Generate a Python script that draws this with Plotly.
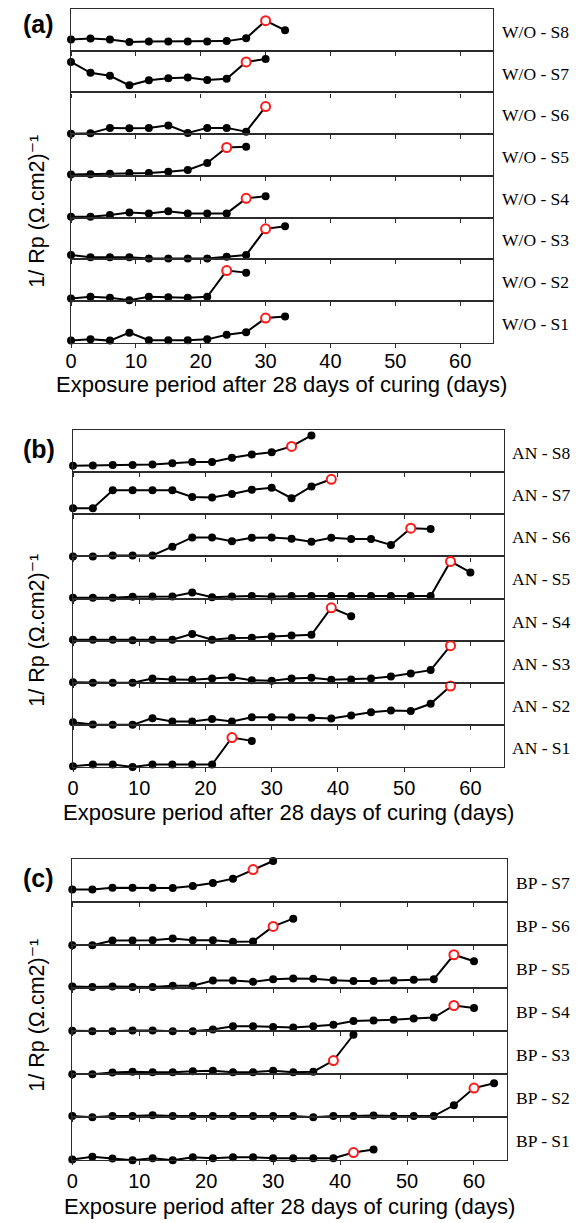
import plotly.graph_objects as go

W, H = 581, 1223

# measurement days (every 3 days of exposure)
DAYS = [0, 3, 6, 9, 12, 15, 18, 21, 24, 27, 30, 33, 36, 39, 42, 45, 48, 51, 54, 57, 60, 63]
TICKS = [0, 10, 20, 30, 40, 50, 60]

# ---- (a) without inhibitor, top row first ----
wo_labels = ["W/O - S8", "W/O - S7", "W/O - S6", "W/O - S5",
             "W/O - S4", "W/O - S3", "W/O - S2", "W/O - S1"]
wo_s8 = [0.27, 0.29, 0.27, 0.21, 0.22, 0.22, 0.22, 0.22, 0.23, 0.30, 0.72, 0.49]
wo_s7 = [0.73, 0.47, 0.40, 0.17, 0.29, 0.34, 0.36, 0.30, 0.33, 0.73, 0.80]
wo_s6 = [0.01, 0.02, 0.15, 0.14, 0.15, 0.21, 0.03, 0.15, 0.15, 0.06, 0.66]
wo_s5 = [0.03, 0.04, 0.05, 0.07, 0.07, 0.10, 0.14, 0.31, 0.68, 0.70]
wo_s4 = [0.02, 0.02, 0.06, 0.12, 0.10, 0.15, 0.10, 0.10, 0.10, 0.46, 0.51]
wo_s3 = [0.10, 0.05, 0.05, 0.05, 0.02, 0.02, 0.02, 0.02, 0.06, 0.10, 0.73, 0.79]
wo_s2 = [0.06, 0.10, 0.08, 0.02, 0.10, 0.09, 0.08, 0.10, 0.73, 0.68]
wo_s1 = [0.05, 0.08, 0.05, 0.24, 0.06, 0.06, 0.06, 0.08, 0.19, 0.25, 0.59, 0.63]
wo_onset = [30, 27, 30, 24, 27, 30, 24, 30]

# ---- (b) AN ----
an_labels = ["AN - S8", "AN - S7", "AN - S6", "AN - S5",
             "AN - S4", "AN - S3", "AN - S2", "AN - S1"]
an_s8 = [0.15, 0.16, 0.17, 0.17, 0.18, 0.21, 0.24, 0.24, 0.34, 0.42, 0.47, 0.61, 0.87]
an_s7 = [0.14, 0.14, 0.57, 0.57, 0.57, 0.57, 0.41, 0.40, 0.48, 0.58, 0.63, 0.38, 0.66, 0.83]
an_s6 = [0.00, 0.00, 0.02, 0.02, 0.02, 0.23, 0.45, 0.45, 0.36, 0.44, 0.45, 0.42, 0.35,
         0.44, 0.41, 0.41, 0.27, 0.67, 0.65]
an_s5 = [0.02, 0.02, 0.02, 0.04, 0.05, 0.05, 0.14, 0.03, 0.05, 0.06, 0.05, 0.06, 0.06,
         0.06, 0.06, 0.06, 0.06, 0.06, 0.06, 0.88, 0.62]
an_s4 = [0.02, 0.02, 0.02, 0.01, 0.02, 0.02, 0.16, 0.02, 0.06, 0.07, 0.10, 0.12, 0.14, 0.78, 0.58]
an_s3 = [0.01, 0.00, 0.00, 0.00, 0.10, 0.08, 0.07, 0.10, 0.13, 0.06, 0.05, 0.10, 0.12,
         0.07, 0.08, 0.10, 0.15, 0.22, 0.30, 0.88]
an_s2 = [0.06, 0.01, 0.00, 0.00, 0.16, 0.08, 0.08, 0.14, 0.08, 0.18, 0.18, 0.18, 0.17,
         0.15, 0.22, 0.30, 0.34, 0.33, 0.50, 0.92]
an_s1 = [0.02, 0.06, 0.06, 0.00, 0.06, 0.06, 0.06, 0.06, 0.70, 0.62]
an_onset = [33, 39, 51, 57, 39, 57, 57, 24]

# ---- (c) BP ----
bp_labels = ["BP - S7", "BP - S6", "BP - S5", "BP - S4", "BP - S3", "BP - S2", "BP - S1"]
bp_s7 = [0.30, 0.30, 0.34, 0.34, 0.34, 0.33, 0.38, 0.45, 0.55, 0.76, 0.96]
bp_s6 = [0.00, 0.00, 0.11, 0.11, 0.12, 0.16, 0.12, 0.12, 0.08, 0.09, 0.44, 0.62]
bp_s5 = [0.04, 0.03, 0.04, 0.03, 0.03, 0.06, 0.06, 0.18, 0.18, 0.15, 0.21, 0.23, 0.22,
         0.19, 0.17, 0.17, 0.18, 0.20, 0.21, 0.78, 0.63]
bp_s4 = [0.01, 0.00, 0.00, 0.02, 0.02, 0.00, 0.00, 0.04, 0.12, 0.12, 0.10, 0.09, 0.12,
         0.15, 0.24, 0.25, 0.27, 0.30, 0.32, 0.60, 0.54]
bp_s3 = [0.00, 0.00, 0.04, 0.06, 0.05, 0.05, 0.07, 0.08, 0.05, 0.05, 0.08, 0.05, 0.06, 0.32, 0.92]
bp_s2 = [0.03, 0.00, 0.03, 0.03, 0.05, 0.03, 0.03, 0.03, 0.03, 0.03, 0.03, 0.03, 0.00,
         0.03, 0.03, 0.04, 0.03, 0.03, 0.03, 0.28, 0.68, 0.79]
bp_s1 = [0.02, 0.08, 0.04, 0.00, 0.05, 0.00, 0.07, 0.05, 0.07, 0.07, 0.05, 0.05, 0.05,
         0.05, 0.18, 0.25]
bp_onset = [27, 30, 57, 57, 39, 60, 42]

# panel boxes in pixels: left, right, top, bottom
panels = [
    dict(tag="(a)", labels=wo_labels, onset=wo_onset,
         series=[wo_s8, wo_s7, wo_s6, wo_s5, wo_s4, wo_s3, wo_s2, wo_s1],
         box=(65.7, 491.7, 9.0, 342.7), ytitle=211, tagy=24, xtitle=384, standoff=-4),
    dict(tag="(b)", labels=an_labels, onset=an_onset,
         series=[an_s8, an_s7, an_s6, an_s5, an_s4, an_s3, an_s2, an_s1],
         box=(67.7, 502.7, 430.0, 767.0), ytitle=630, tagy=449, xtitle=812, standoff=-1),
    dict(tag="(c)", labels=bp_labels, onset=bp_onset,
         series=[bp_s7, bp_s6, bp_s5, bp_s4, bp_s3, bp_s2, bp_s1],
         box=(67.0, 506.7, 859.3, 1160.3), ytitle=1015, tagy=878, xtitle=1206, standoff=-1),
]

FRAME = "#2b2b2b"
SANS = "Liberation Sans, Arial, DejaVu Sans, sans-serif"
SERIF = "Liberation Serif, Times New Roman, serif"
YTITLE = "1/ Rp (\u03a9.cm2)\u207b\u00b9"

fig = go.Figure()
layout = {}
annotations = []
k = 0
for p in panels:
    left, right, top, bottom = p["box"]
    n = len(p["series"])
    h = (bottom - top) / n
    for i, (vals, lab, od) in enumerate(zip(p["series"], p["labels"], p["onset"])):
        k += 1
        sfx = "" if k == 1 else str(k)
        xs = DAYS[:len(vals)]
        y0 = top + i * h
        y1 = y0 + h
        last = i == n - 1
        layout["xaxis" + sfx] = dict(
            domain=[left / W, right / W], anchor="y" + sfx, range=[0, 65],
            showline=True, mirror=True, linecolor=FRAME, linewidth=1.3,
            ticks="outside", ticklen=4, tickwidth=1, tickcolor=FRAME,
            tickvals=TICKS, showticklabels=last, showgrid=False, zeroline=False,
            tickfont=dict(family=SANS, size=20, color="black"),
            ticklabelstandoff=p["standoff"],
        )
        layout["yaxis" + sfx] = dict(
            domain=[1 - y1 / H, 1 - y0 / H], anchor="x" + sfx, range=[0, 1],
            showline=True, mirror=True, linecolor=FRAME, linewidth=1.3,
            ticks="", showticklabels=False, showgrid=False, zeroline=False,
        )
        fig.add_trace(go.Scatter(
            x=xs, y=vals, xaxis="x" + sfx, yaxis="y" + sfx, mode="lines+markers",
            line=dict(color="black", width=2),
            marker=dict(color="black", size=8), cliponaxis=False, showlegend=False,
        ))
        j = xs.index(od)
        fig.add_trace(go.Scatter(
            x=[xs[j]], y=[vals[j]], xaxis="x" + sfx, yaxis="y" + sfx, mode="markers",
            marker=dict(color="white", size=9, line=dict(color="#ff1a1a", width=2)),
            cliponaxis=False, showlegend=False,
        ))
        annotations.append(dict(
            text=lab, xref="paper", yref="paper", x=(right + 7) / W,
            y=1 - ((y0 + y1) / 2 + 2) / H, xanchor="left", yanchor="middle",
            showarrow=False, font=dict(family=SERIF, size=17.5, color="black"),
        ))
    annotations.append(dict(
        text="Exposure period after 28 days of curing (days)", xref="paper", yref="paper",
        x=((left + right) / 2) / W, y=1 - p["xtitle"] / H, xanchor="center",
        yanchor="middle", showarrow=False, font=dict(family=SANS, size=22, color="black"),
    ))
    annotations.append(dict(
        text=YTITLE, xref="paper", yref="paper",
        x=31 / W, y=1 - p["ytitle"] / H, xanchor="center", yanchor="middle",
        textangle=-90, showarrow=False, font=dict(family=SANS, size=21.5, color="black"),
    ))
    annotations.append(dict(
        text=p["tag"], xref="paper", yref="paper",
        x=33 / W, y=1 - p["tagy"] / H, xanchor="center", yanchor="middle",
        showarrow=False, font=dict(family=SANS, size=25, color="black", weight="bold"),
    ))

fig.update_layout(
    width=W, height=H, margin=dict(l=0, r=0, t=0, b=0),
    paper_bgcolor="white", plot_bgcolor="white",
    annotations=annotations, **layout,
)
fig.write_html("out.html")
